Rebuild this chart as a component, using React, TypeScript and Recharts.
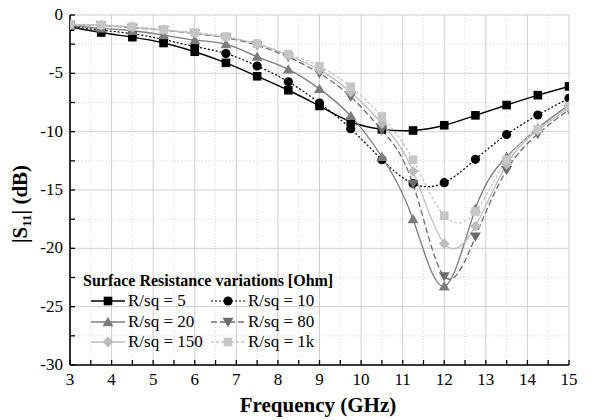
import React from 'react';
import { LineChart, Line, XAxis, YAxis, CartesianGrid, Legend } from 'recharts';

const freqs = [3, 3.75, 4.5, 5.25, 6, 6.75, 7.5, 8.25, 9, 9.75, 10.5, 11.25, 12, 12.75, 13.5, 14.25, 15];
const r5 = [-1.0, -1.5, -1.9, -2.4, -3.15, -4.1, -5.25, -6.45, -7.8, -9.15, -9.8, -9.9, -9.45, -8.6, -7.72, -6.87, -6.12];
const r10 = [-0.95, -1.3, -1.6, -2.1, -2.7, -3.3, -4.37, -5.72, -7.55, -9.75, -12.4, -14.45, -14.37, -12.37, -10.25, -8.57, -7.14];
const r20 = [-0.9, -1.15, -1.35, -1.72, -2.15, -2.5, -3.57, -4.66, -6.33, -8.65, -12.15, -17.5, -23.25, -16.6, -12.15, -9.7, -7.7];
const r80 = [-0.85, -0.9, -1.1, -1.3, -1.6, -1.95, -2.6, -3.6, -5.0, -7.0, -9.86, -14.5, -22.4, -19.0, -13.3, -10.2, -8.1];
const r150 = [-0.85, -0.88, -1.05, -1.27, -1.55, -1.9, -2.5, -3.45, -4.7, -6.6, -9.3, -13.4, -19.6, -18.1, -12.8, -9.9, -7.9];
const r1k = [-0.8, -0.85, -1.0, -1.25, -1.5, -1.85, -2.45, -3.35, -4.4, -6.15, -8.7, -12.4, -17.2, -16.85, -12.4, -9.8, -7.8];

const seriesNames = ['R/sq = 5', 'R/sq = 10', 'R/sq = 20', 'R/sq = 80', 'R/sq = 150', 'R/sq = 1k'];
const xTicks = [3, 3.5, 4, 4.5, 5, 5.5, 6, 6.5, 7, 7.5, 8, 8.5, 9, 9.5, 10, 10.5, 11, 11.5, 12, 12.5, 13, 13.5, 14, 14.5, 15];
const xMajor = [3, 4, 5, 6, 7, 8, 9, 10, 11, 12, 13, 14, 15];
const xMinor = [3.5, 4.5, 5.5, 6.5, 7.5, 8.5, 9.5, 10.5, 11.5, 12.5, 13.5, 14.5];
const yTicks = [0, -2.5, -5, -7.5, -10, -12.5, -15, -17.5, -20, -22.5, -25, -27.5, -30];
const yMajor = [0, -5, -10, -15, -20, -25, -30];
const yMinor = [-2.5, -7.5, -12.5, -17.5, -22.5, -27.5];
const legendTitle = 'Surface Resistance variations [Ohm]';
const xTitle = 'Frequency (GHz)';

const data = freqs.map((f, i) => ({
  f,
  r5: r5[i],
  r10: r10[i],
  r20: r20[i],
  r80: r80[i],
  r150: r150[i],
  r1k: r1k[i],
}));

type Shape = 'square' | 'circle' | 'up' | 'down' | 'diamond';
const series: { key: string; name: string; color: string; dash?: string; shape: Shape; width: number }[] = [
  { key: 'r5', name: seriesNames[0], color: '#000000', shape: 'square', width: 1.4 },
  { key: 'r10', name: seriesNames[1], color: '#000000', dash: '2 2', shape: 'circle', width: 1.2 },
  { key: 'r20', name: seriesNames[2], color: '#7c7c7c', shape: 'up', width: 1.3 },
  { key: 'r80', name: seriesNames[3], color: '#6c6c6c', dash: '6 3', shape: 'down', width: 1.3 },
  { key: 'r150', name: seriesNames[4], color: '#bcbcbc', shape: 'diamond', width: 1.3 },
  { key: 'r1k', name: seriesNames[5], color: '#c6c6c6', dash: '3 2', shape: 'square', width: 1.3 },
];

const FONT = 'Liberation Serif, DejaVu Serif, serif';

function Marker({ shape, cx, cy, color }: { shape: Shape; cx: number; cy: number; color: string }) {
  const s = 4.3;
  if (shape === 'square') return <rect x={cx - s} y={cy - s} width={2 * s} height={2 * s} fill={color} />;
  if (shape === 'circle') return <circle cx={cx} cy={cy} r={4.6} fill={color} />;
  if (shape === 'up') {
    const h = 5.2;
    return <polygon points={`${cx},${cy - h} ${cx - h * 1.05},${cy + h * 0.8} ${cx + h * 1.05},${cy + h * 0.8}`} fill={color} />;
  }
  if (shape === 'down') {
    const h = 5.2;
    return <polygon points={`${cx},${cy + h} ${cx - h * 1.05},${cy - h * 0.8} ${cx + h * 1.05},${cy - h * 0.8}`} fill={color} />;
  }
  const d = 5.4;
  return <polygon points={`${cx},${cy - d} ${cx + d},${cy} ${cx},${cy + d} ${cx - d},${cy}`} fill={color} />;
}

const makeDot = (shape: Shape, color: string) => (props: any) => {
  const { cx, cy, index } = props;
  if (cx == null || cy == null) return <g key={`d${index}`} />;
  return <Marker key={`d${index}`} shape={shape} cx={cx} cy={cy} color={color} />;
};

const BottomTick = (props: any) => {
  const { x, y, payload } = props;
  const v = payload.value;
  const isMajor = Math.abs(v - Math.round(v)) < 1e-6;
  return (
    <g>
      <line x1={x} x2={x} y1={y} y2={y - 5} stroke="#000" strokeWidth={1.3} />
      {isMajor && (
        <text x={x} y={y + 20} textAnchor="middle" style={{ fontFamily: FONT }} fontSize={17} fill="#000">
          {v}
        </text>
      )}
    </g>
  );
};

const TopTick = (props: any) => {
  const { x, y } = props;
  return <line x1={x} x2={x} y1={y} y2={y + 5} stroke="#000" strokeWidth={1.3} />;
};

const LeftTick = (props: any) => {
  const { x, y, payload } = props;
  const v = payload.value;
  const isMajor = Math.abs(v / 5 - Math.round(v / 5)) < 1e-6;
  return (
    <g>
      <line x1={x} x2={x + 5} y1={y} y2={y} stroke="#000" strokeWidth={1.3} />
      {isMajor && (
        <text x={x - 7} y={y + 5} textAnchor="end" style={{ fontFamily: FONT }} fontSize={17} fill="#000">
          {v}
        </text>
      )}
    </g>
  );
};

const RightTick = (props: any) => {
  const { x, y } = props;
  return <line x1={x} x2={x - 5} y1={y} y2={y} stroke="#000" strokeWidth={1.3} />;
};

const XTitle = () => (
  <text x={318} y={412} textAnchor="middle" style={{ fontFamily: FONT }} fontSize={21} fontWeight="bold" fill="#000">
    {xTitle}
  </text>
);

const YTitle = () => (
  <text transform="translate(27,204) rotate(-90)" textAnchor="middle" style={{ fontFamily: FONT }} fontSize={21} fontWeight="bold" fill="#000">
    |S<tspan fontSize={13} dy={4}>11</tspan>
    <tspan dy={-4}>| (dB)</tspan>
  </text>
);

const LegendRow = ({ s, left, cy }: { s: (typeof series)[number]; left: number; cy: number }) => (
  <div style={{ position: 'absolute', left, top: cy - 11, height: 22, display: 'flex', alignItems: 'center', whiteSpace: 'nowrap' }}>
    <svg width={34} height={22} style={{ display: 'block' }}>
      <line x1={0} x2={34} y1={11} y2={11} stroke={s.color} strokeWidth={s.width} strokeDasharray={s.dash} />
      <Marker shape={s.shape} cx={17} cy={11} color={s.color} />
    </svg>
    <span style={{ marginLeft: 3, fontFamily: FONT, fontSize: 17, color: '#000', lineHeight: '22px' }}>{s.name}</span>
  </div>
);

const renderLegend = () => (
  <div style={{ position: 'relative', width: 592, height: 420 }}>
    <div
      style={{
        position: 'absolute',
        left: 83,
        top: 272,
        fontFamily: FONT,
        fontSize: 16,
        fontWeight: 'bold',
        whiteSpace: 'nowrap',
        lineHeight: '18px',
        color: '#000',
      }}
    >
      {legendTitle}
    </div>
    <LegendRow s={series[0]} left={91} cy={301} />
    <LegendRow s={series[1]} left={211} cy={301} />
    <LegendRow s={series[2]} left={91} cy={321.5} />
    <LegendRow s={series[3]} left={211} cy={321.5} />
    <LegendRow s={series[4]} left={91} cy={342} />
    <LegendRow s={series[5]} left={211} cy={342} />
  </div>
);

export default function App() {
  return (
    <div style={{ position: 'absolute', left: 0, top: 0, width: 592, height: 420, background: '#fff', fontFamily: FONT }}>
      <LineChart width={592} height={420} data={data} margin={{ top: 15, right: 23, bottom: 0, left: 0 }}>
        <CartesianGrid verticalValues={xMinor} horizontalValues={yMinor} stroke="#d8d8d8" strokeDasharray="1 2" strokeWidth={1} />
        <CartesianGrid verticalValues={xMajor} horizontalValues={yMajor} stroke="#cfcfcf" strokeWidth={1} />
        <XAxis
          dataKey="f"
          type="number"
          domain={[3, 15]}
          ticks={xTicks}
          interval={0}
          tick={<BottomTick />}
          tickLine={false}
          tickSize={0}
          tickMargin={0}
          height={55}
          axisLine={{ stroke: '#000', strokeWidth: 1.6 }}
          label={<XTitle />}
          allowDataOverflow
        />
        <XAxis
          xAxisId="top"
          orientation="top"
          dataKey="f"
          type="number"
          domain={[3, 15]}
          ticks={xTicks}
          interval={0}
          tick={<TopTick />}
          tickLine={false}
          tickSize={0}
          tickMargin={0}
          height={0}
          axisLine={{ stroke: '#000', strokeWidth: 1.6 }}
          allowDataOverflow
        />
        <YAxis
          type="number"
          domain={[-30, 0]}
          ticks={yTicks}
          interval={0}
          tick={<LeftTick />}
          tickLine={false}
          tickSize={0}
          tickMargin={0}
          width={70}
          axisLine={{ stroke: '#000', strokeWidth: 1.6 }}
          label={<YTitle />}
          allowDataOverflow
        />
        <YAxis
          yAxisId="right"
          orientation="right"
          type="number"
          domain={[-30, 0]}
          ticks={yTicks}
          interval={0}
          tick={<RightTick />}
          tickLine={false}
          tickSize={0}
          tickMargin={0}
          width={0}
          axisLine={{ stroke: '#000', strokeWidth: 1.6 }}
          allowDataOverflow
        />
        <Legend
          layout="horizontal"
          verticalAlign="middle"
          align="center"
          content={renderLegend}
          wrapperStyle={{ position: 'absolute', left: 0, top: 0, width: 592, height: 420, pointerEvents: 'none' }}
        />
        {series.map((s) => (
          <Line
            key={s.key}
            dataKey={s.key}
            name={s.name}
            type="natural"
            stroke={s.color}
            strokeWidth={s.width}
            strokeDasharray={s.dash}
            dot={makeDot(s.shape, s.color)}
            activeDot={false}
            isAnimationActive={false}
          />
        ))}
      </LineChart>
    </div>
  );
}
